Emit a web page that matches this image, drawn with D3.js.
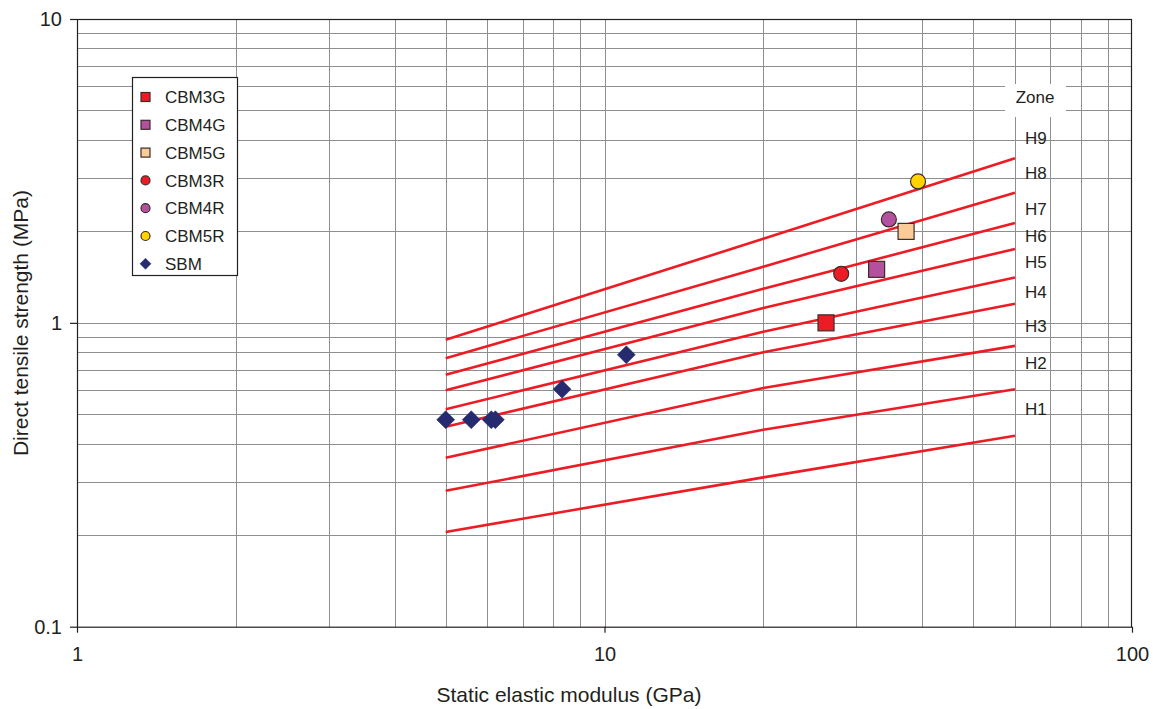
<!DOCTYPE html>
<html>
<head>
<meta charset="utf-8">
<script src="https://cdn.jsdelivr.net/npm/d3@7"></script>
<style>
  html, body { margin: 0; padding: 0; background: #fff; }
  svg { display: block; font-family: "Liberation Sans", Arial, Helvetica, sans-serif; }
</style>
</head>
<body>
<svg id="chart" width="1153" height="709"></svg>
<script>
// Zone boundary lines (strength vs modulus), one series per boundary, bottom to top
const zoneModulus = [5, 20, 60];
const zoneBoundaries = [
  [0.205, 0.31, 0.425],
  [0.28, 0.445, 0.605],
  [0.36, 0.61, 0.84],
  [0.455, 0.80, 1.155],
  [0.52, 0.935, 1.41],
  [0.60, 1.12, 1.75],
  [0.675, 1.295, 2.13],
  [0.765, 1.53, 2.68],
  [0.88, 1.89, 3.48]
];

// Zone labels and the strength level each is written at
const zoneLabels = ["H1", "H2", "H3", "H4", "H5", "H6", "H7", "H8", "H9"];
const zoneLabelLevels = [0.52, 0.738, 0.976, 1.26, 1.59, 1.93, 2.37, 3.11, 4.06];
const zoneHeaderLevel = 5.54;

// Measured samples: [modulus GPa, strength MPa]
const cbm3g = [[26.3, 1.0]];
const cbm4g = [[32.8, 1.5]];
const cbm5g = [[37.3, 2.0]];
const cbm3r = [[28.1, 1.45]];
const cbm4r = [[34.6, 2.19]];
const cbm5r = [[39.3, 2.92]];
const sbm = [[5.0, 0.48], [5.59, 0.48], [6.1, 0.48], [6.21, 0.48], [8.31, 0.605], [11.0, 0.785]];

// Axis ticks
const xMajor = [1, 10, 100];
const yMajor = [0.1, 1, 10];
const xTickLabels = ["1", "10", "100"];
const yTickLabels = ["0.1", "1", "10"];

const series = [
  { name: "CBM3G", data: cbm3g, shape: "square", fill: "#ed1c24" },
  { name: "CBM4G", data: cbm4g, shape: "square", fill: "#b4519f" },
  { name: "CBM5G", data: cbm5g, shape: "square", fill: "#fccb97" },
  { name: "CBM3R", data: cbm3r, shape: "circle", fill: "#ed1c24" },
  { name: "CBM4R", data: cbm4r, shape: "circle", fill: "#b4519f" },
  { name: "CBM5R", data: cbm5r, shape: "circle", fill: "#ffd200" },
  { name: "SBM",   data: sbm,   shape: "diamond", fill: "#262a6e" }
];

const svg = d3.select("#chart");
const plotLeft = 77, plotRight = 1132, plotTop = 19, plotBottom = 626.7;
const textColor = "#231f20";

const x = d3.scaleLog().domain([1, 100]).range([plotLeft, plotRight]);
const y = d3.scaleLog().domain([0.1, 10]).range([plotBottom, plotTop]);

// Grid: every 1..9 step inside each decade
const xGrid = [];
for (let d = 1; d < 100; d *= 10) for (let k = 1; k <= 9; k++) if (!(d === 1 && k === 1)) xGrid.push(d * k);
const yGrid = [];
for (let d = 0.1; d < 10; d *= 10) for (let k = 1; k <= 9; k++) if (!(Math.abs(d - 0.1) < 1e-9 && k === 1)) yGrid.push(+(d * k).toPrecision(3));

const grid = svg.append("g").attr("stroke", "#8f8f8f").attr("stroke-width", 1).attr("shape-rendering", "crispEdges");
grid.selectAll("line.gx").data(xGrid).join("line")
  .attr("x1", d => Math.round(x(d)) + 0.5).attr("x2", d => Math.round(x(d)) + 0.5)
  .attr("y1", plotTop).attr("y2", plotBottom);
grid.selectAll("line.gy").data(yGrid).join("line")
  .attr("x1", plotLeft).attr("x2", plotRight)
  .attr("y1", d => Math.round(y(d)) + 0.5).attr("y2", d => Math.round(y(d)) + 0.5);

// Zone boundary lines
const lineGen = d3.line().x(d => x(d[0])).y(d => y(d[1]));
svg.append("g").selectAll("path").data(zoneBoundaries).join("path")
  .attr("d", vals => lineGen(vals.map((v, i) => [zoneModulus[i], v])))
  .attr("fill", "none").attr("stroke", "#ed1c24").attr("stroke-width", 2.6);

// Marker drawing
function drawMarker(g, shape, size, fill) {
  if (shape === "square") {
    g.append("rect").attr("x", -size / 2).attr("y", -size / 2).attr("width", size).attr("height", size)
      .attr("fill", fill).attr("stroke", "#3b2b2b").attr("stroke-width", 1.2);
  } else if (shape === "circle") {
    g.append("circle").attr("r", size / 2).attr("fill", fill).attr("stroke", "#3b2b2b").attr("stroke-width", 1.2);
  } else {
    const h = size / 2;
    g.append("path").attr("d", `M0,${-h}L${h},0L0,${h}L${-h},0Z`).attr("fill", fill).attr("stroke", fill).attr("stroke-width", 0.5);
  }
}

const pts = svg.append("g");
series.forEach(s => {
  const size = s.shape === "diamond" ? 18 : (s.shape === "square" ? 16 : 15);
  s.data.forEach(p => {
    const g = pts.append("g").attr("transform", `translate(${x(p[0])},${y(p[1])})`);
    drawMarker(g, s.shape, size, s.fill);
  });
});

// Plot frame
svg.append("rect").attr("x", plotLeft + 0.5).attr("y", plotTop + 0.5)
  .attr("width", plotRight - plotLeft - 1).attr("height", plotBottom - plotTop)
  .attr("fill", "none").attr("stroke", "#231f20").attr("stroke-width", 1.2);

// Axes with major ticks
const xAxis = svg.append("g").attr("transform", `translate(0,${plotBottom})`)
  .call(d3.axisBottom(x).tickValues(xMajor).tickFormat((d, i) => xTickLabels[i]).tickSize(6).tickPadding(14));
const yAxis = svg.append("g").attr("transform", `translate(${plotLeft},0)`)
  .call(d3.axisLeft(y).tickValues(yMajor).tickFormat((d, i) => yTickLabels[i]).tickSize(7).tickPadding(8));
[xAxis, yAxis].forEach(a => {
  a.select(".domain").remove();
  a.selectAll(".tick line").attr("stroke", "#231f20").attr("stroke-width", 1.2);
  a.selectAll(".tick text").attr("fill", textColor).attr("font-size", 20)
    .attr("font-family", "'Liberation Sans', Arial, sans-serif");
});

// Axis titles
svg.append("text").attr("x", 569).attr("y", 702)
  .attr("text-anchor", "middle").attr("font-size", 21).attr("fill", textColor)
  .text("Static elastic modulus (GPa)");
svg.append("text").attr("transform", `translate(28,323) rotate(-90)`)
  .attr("text-anchor", "middle").attr("font-size", 21).attr("fill", textColor)
  .text("Direct tensile strength (MPa)");

// Zone labels on the right
const labelX = x(60) + 10;
svg.append("rect").attr("x", 1005).attr("y", 84).attr("width", 61).attr("height", 33).attr("fill", "#fff");
svg.append("text").attr("x", 1035).attr("y", y(zoneHeaderLevel)).attr("dy", "0.35em")
  .attr("text-anchor", "middle").attr("font-size", 17).attr("fill", textColor).text("Zone");
svg.append("g").selectAll("text").data(zoneLabels).join("text")
  .attr("x", labelX).attr("y", (d, i) => y(zoneLabelLevels[i])).attr("dy", "0.35em")
  .attr("font-size", 17).attr("fill", textColor).text(d => d);

// Legend
const legend = svg.append("g");
legend.append("rect").attr("x", 132.5).attr("y", 77.5).attr("width", 105).attr("height", 198)
  .attr("fill", "#fff").attr("stroke", "#231f20").attr("stroke-width", 1.2);
series.forEach((s, i) => {
  const cy = 97 + i * 27.8;
  const g = legend.append("g").attr("transform", `translate(145.5,${cy})`);
  drawMarker(g, s.shape, s.shape === "diamond" ? 11 : 9, s.fill);
  legend.append("text").attr("x", 165).attr("y", cy).attr("dy", "0.36em")
    .attr("font-size", 17).attr("fill", textColor).text(s.name);
});
</script>
</body>
</html>
